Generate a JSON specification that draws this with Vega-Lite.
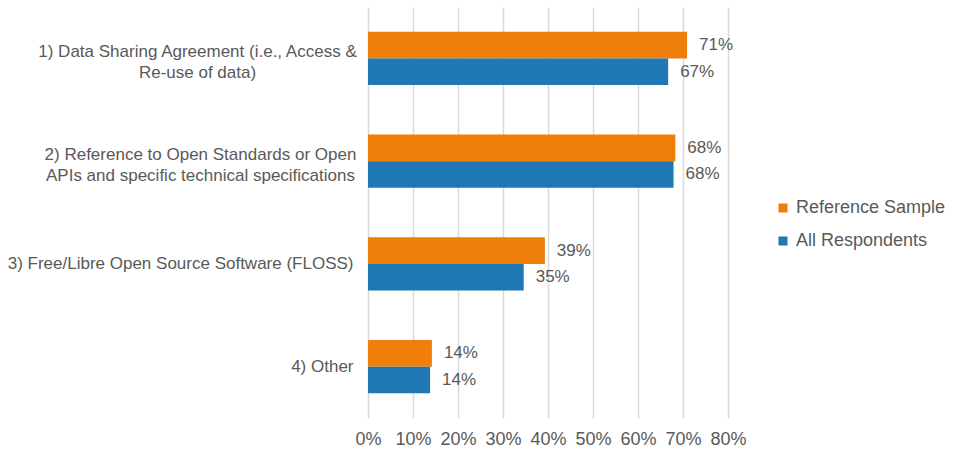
{
  "$schema": "https://vega.github.io/schema/vega-lite/v6.json",
  "width": 360,
  "height": 411,
  "autosize": {"type": "none"},
  "padding": {"left": 368, "top": 7, "right": 226, "bottom": 37},
  "background": "white",
  "config": {"view": {"stroke": null}, "font": "Liberation Sans"},
  "data": {
    "values": [
      {"category": "1) Data Sharing Agreement (i.e., Access & Re-use of data)", "series": "Reference Sample", "value": 0.709},
      {"category": "1) Data Sharing Agreement (i.e., Access & Re-use of data)", "series": "All Respondents", "value": 0.667},
      {"category": "2) Reference to Open Standards or Open APIs and specific technical specifications", "series": "Reference Sample", "value": 0.683},
      {"category": "2) Reference to Open Standards or Open APIs and specific technical specifications", "series": "All Respondents", "value": 0.679},
      {"category": "3) Free/Libre Open Source Software (FLOSS)", "series": "Reference Sample", "value": 0.393},
      {"category": "3) Free/Libre Open Source Software (FLOSS)", "series": "All Respondents", "value": 0.346},
      {"category": "4) Other", "series": "Reference Sample", "value": 0.142},
      {"category": "4) Other", "series": "All Respondents", "value": 0.138}
    ]
  },
  "encoding": {
    "y": {
      "field": "category",
      "type": "nominal",
      "sort": null,
      "scale": {"paddingInner": 0.48, "paddingOuter": 0.24},
      "axis": {
        "title": null,
        "domain": false,
        "ticks": false,
        "labelFontSize": 17,
        "labelColor": "#595959",
        "labelLineHeight": 21,
        "labelLimit": 400,
        "labelAlign": {
          "condition": {"test": "indexof(datum.value, 'Access &') >= 0 || indexof(datum.value, 'Open APIs') >= 0", "value": "center"},
          "value": "right"
        },
        "labelOffset": {
          "condition": {"test": "indexof(datum.value, 'Access &') >= 0 || indexof(datum.value, 'Open APIs') >= 0", "value": -6},
          "value": 0
        },
        "labelPadding": {
          "condition": [
            {"test": "indexof(datum.value, 'Access &') >= 0", "value": 171},
            {"test": "indexof(datum.value, 'Open APIs') >= 0", "value": 168}
          ],
          "value": 15
        },
        "labelExpr": "indexof(datum.label, 'Access &') >= 0 ? ['1) Data Sharing Agreement (i.e., Access &', 'Re-use of data)'] : indexof(datum.label, 'Open APIs') >= 0 ? ['2) Reference to Open Standards or Open', 'APIs and specific technical specifications'] : datum.label"
      }
    },
    "yOffset": {"field": "series", "type": "nominal", "sort": ["Reference Sample", "All Respondents"]},
    "x": {
      "field": "value",
      "type": "quantitative",
      "scale": {"domain": [0, 0.8]},
      "axis": {
        "title": null,
        "format": ".0%",
        "values": [0, 0.1, 0.2, 0.3, 0.4, 0.5, 0.6, 0.7, 0.8],
        "labelOverlap": false,
        "labelFlush": false,
        "grid": true,
        "gridColor": "#d9d9d9",
        "gridWidth": 1.5,
        "domain": false,
        "ticks": false,
        "labelFontSize": 18,
        "labelColor": "#595959",
        "labelPadding": 12
      }
    }
  },
  "layer": [
    {
      "mark": {"type": "bar"},
      "encoding": {
        "color": {
          "field": "series",
          "type": "nominal",
          "scale": {"domain": ["Reference Sample", "All Respondents"], "range": ["#F07F09", "#1F77B4"]},
          "legend": {
            "title": null,
            "orient": "none",
            "legendX": 406,
            "legendY": 192,
            "symbolType": "square",
            "symbolSize": 81,
            "symbolStrokeWidth": 0,
            "labelFontSize": 18,
            "labelColor": "#595959",
            "labelOffset": 4,
            "rowPadding": 15
          }
        }
      }
    },
    {
      "mark": {"type": "text", "align": "left", "baseline": "middle", "dx": 12, "fontSize": 17, "color": "#595959"},
      "encoding": {"text": {"field": "value", "type": "quantitative", "format": ".0%"}}
    }
  ]
}
